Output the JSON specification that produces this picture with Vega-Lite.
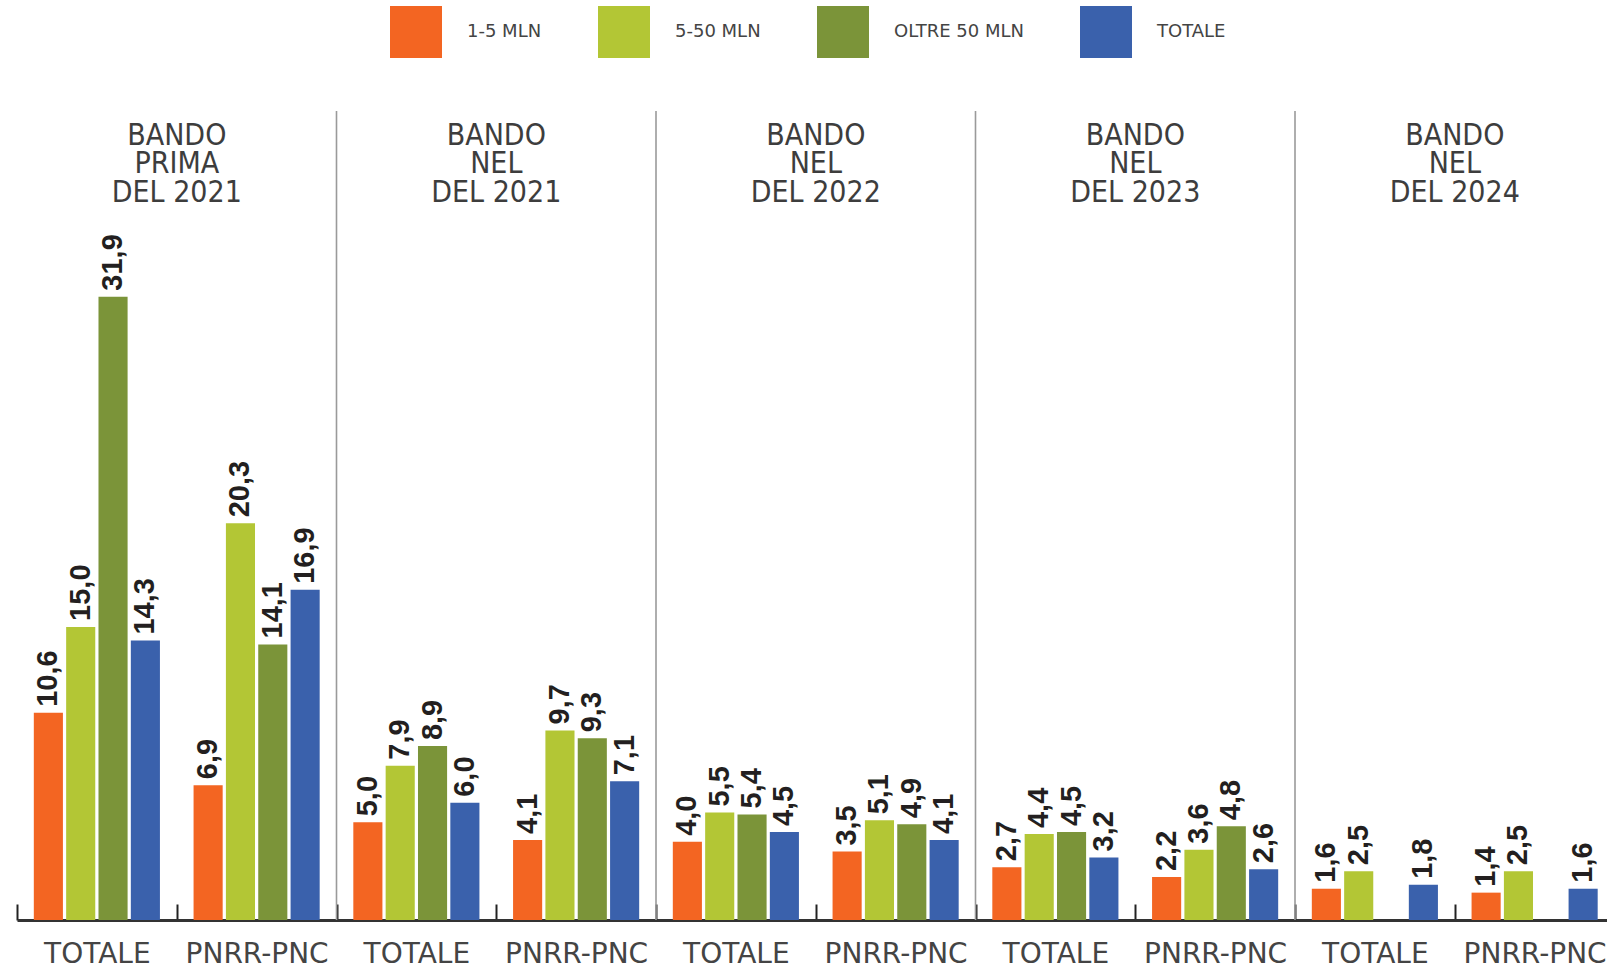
{
  "$schema": "https://vega.github.io/schema/vega-lite/v6.json",
  "autosize": "none",
  "width": 1590,
  "height": 809,
  "padding": {"left": 17, "top": 111, "right": 0, "bottom": 49},
  "background": "white",
  "config": {
    "view": {"stroke": null},
    "locale": {"number": {"decimal": ",", "thousands": ".", "grouping": [3], "currency": ["€", ""]}}
  },
  "data": {
    "values": [
      {"colonna": "BANDO|PRIMA|DEL 2021~TOTALE", "bando": "BANDO|PRIMA|DEL 2021", "tipo": "TOTALE", "classe": "1-5 MLN", "valore": 10.6},
      {"colonna": "BANDO|PRIMA|DEL 2021~TOTALE", "bando": "BANDO|PRIMA|DEL 2021", "tipo": "TOTALE", "classe": "5-50 MLN", "valore": 15.0},
      {"colonna": "BANDO|PRIMA|DEL 2021~TOTALE", "bando": "BANDO|PRIMA|DEL 2021", "tipo": "TOTALE", "classe": "OLTRE 50 MLN", "valore": 31.9},
      {"colonna": "BANDO|PRIMA|DEL 2021~TOTALE", "bando": "BANDO|PRIMA|DEL 2021", "tipo": "TOTALE", "classe": "TOTALE", "valore": 14.3},
      {"colonna": "BANDO|PRIMA|DEL 2021~PNRR-PNC", "bando": "BANDO|PRIMA|DEL 2021", "tipo": "PNRR-PNC", "classe": "1-5 MLN", "valore": 6.9},
      {"colonna": "BANDO|PRIMA|DEL 2021~PNRR-PNC", "bando": "BANDO|PRIMA|DEL 2021", "tipo": "PNRR-PNC", "classe": "5-50 MLN", "valore": 20.3},
      {"colonna": "BANDO|PRIMA|DEL 2021~PNRR-PNC", "bando": "BANDO|PRIMA|DEL 2021", "tipo": "PNRR-PNC", "classe": "OLTRE 50 MLN", "valore": 14.1},
      {"colonna": "BANDO|PRIMA|DEL 2021~PNRR-PNC", "bando": "BANDO|PRIMA|DEL 2021", "tipo": "PNRR-PNC", "classe": "TOTALE", "valore": 16.9},
      {"colonna": "BANDO|NEL|DEL 2021~TOTALE", "bando": "BANDO|NEL|DEL 2021", "tipo": "TOTALE", "classe": "1-5 MLN", "valore": 5.0},
      {"colonna": "BANDO|NEL|DEL 2021~TOTALE", "bando": "BANDO|NEL|DEL 2021", "tipo": "TOTALE", "classe": "5-50 MLN", "valore": 7.9},
      {"colonna": "BANDO|NEL|DEL 2021~TOTALE", "bando": "BANDO|NEL|DEL 2021", "tipo": "TOTALE", "classe": "OLTRE 50 MLN", "valore": 8.9},
      {"colonna": "BANDO|NEL|DEL 2021~TOTALE", "bando": "BANDO|NEL|DEL 2021", "tipo": "TOTALE", "classe": "TOTALE", "valore": 6.0},
      {"colonna": "BANDO|NEL|DEL 2021~PNRR-PNC", "bando": "BANDO|NEL|DEL 2021", "tipo": "PNRR-PNC", "classe": "1-5 MLN", "valore": 4.1},
      {"colonna": "BANDO|NEL|DEL 2021~PNRR-PNC", "bando": "BANDO|NEL|DEL 2021", "tipo": "PNRR-PNC", "classe": "5-50 MLN", "valore": 9.7},
      {"colonna": "BANDO|NEL|DEL 2021~PNRR-PNC", "bando": "BANDO|NEL|DEL 2021", "tipo": "PNRR-PNC", "classe": "OLTRE 50 MLN", "valore": 9.3},
      {"colonna": "BANDO|NEL|DEL 2021~PNRR-PNC", "bando": "BANDO|NEL|DEL 2021", "tipo": "PNRR-PNC", "classe": "TOTALE", "valore": 7.1},
      {"colonna": "BANDO|NEL|DEL 2022~TOTALE", "bando": "BANDO|NEL|DEL 2022", "tipo": "TOTALE", "classe": "1-5 MLN", "valore": 4.0},
      {"colonna": "BANDO|NEL|DEL 2022~TOTALE", "bando": "BANDO|NEL|DEL 2022", "tipo": "TOTALE", "classe": "5-50 MLN", "valore": 5.5},
      {"colonna": "BANDO|NEL|DEL 2022~TOTALE", "bando": "BANDO|NEL|DEL 2022", "tipo": "TOTALE", "classe": "OLTRE 50 MLN", "valore": 5.4},
      {"colonna": "BANDO|NEL|DEL 2022~TOTALE", "bando": "BANDO|NEL|DEL 2022", "tipo": "TOTALE", "classe": "TOTALE", "valore": 4.5},
      {"colonna": "BANDO|NEL|DEL 2022~PNRR-PNC", "bando": "BANDO|NEL|DEL 2022", "tipo": "PNRR-PNC", "classe": "1-5 MLN", "valore": 3.5},
      {"colonna": "BANDO|NEL|DEL 2022~PNRR-PNC", "bando": "BANDO|NEL|DEL 2022", "tipo": "PNRR-PNC", "classe": "5-50 MLN", "valore": 5.1},
      {"colonna": "BANDO|NEL|DEL 2022~PNRR-PNC", "bando": "BANDO|NEL|DEL 2022", "tipo": "PNRR-PNC", "classe": "OLTRE 50 MLN", "valore": 4.9},
      {"colonna": "BANDO|NEL|DEL 2022~PNRR-PNC", "bando": "BANDO|NEL|DEL 2022", "tipo": "PNRR-PNC", "classe": "TOTALE", "valore": 4.1},
      {"colonna": "BANDO|NEL|DEL 2023~TOTALE", "bando": "BANDO|NEL|DEL 2023", "tipo": "TOTALE", "classe": "1-5 MLN", "valore": 2.7},
      {"colonna": "BANDO|NEL|DEL 2023~TOTALE", "bando": "BANDO|NEL|DEL 2023", "tipo": "TOTALE", "classe": "5-50 MLN", "valore": 4.4},
      {"colonna": "BANDO|NEL|DEL 2023~TOTALE", "bando": "BANDO|NEL|DEL 2023", "tipo": "TOTALE", "classe": "OLTRE 50 MLN", "valore": 4.5},
      {"colonna": "BANDO|NEL|DEL 2023~TOTALE", "bando": "BANDO|NEL|DEL 2023", "tipo": "TOTALE", "classe": "TOTALE", "valore": 3.2},
      {"colonna": "BANDO|NEL|DEL 2023~PNRR-PNC", "bando": "BANDO|NEL|DEL 2023", "tipo": "PNRR-PNC", "classe": "1-5 MLN", "valore": 2.2},
      {"colonna": "BANDO|NEL|DEL 2023~PNRR-PNC", "bando": "BANDO|NEL|DEL 2023", "tipo": "PNRR-PNC", "classe": "5-50 MLN", "valore": 3.6},
      {"colonna": "BANDO|NEL|DEL 2023~PNRR-PNC", "bando": "BANDO|NEL|DEL 2023", "tipo": "PNRR-PNC", "classe": "OLTRE 50 MLN", "valore": 4.8},
      {"colonna": "BANDO|NEL|DEL 2023~PNRR-PNC", "bando": "BANDO|NEL|DEL 2023", "tipo": "PNRR-PNC", "classe": "TOTALE", "valore": 2.6},
      {"colonna": "BANDO|NEL|DEL 2024~TOTALE", "bando": "BANDO|NEL|DEL 2024", "tipo": "TOTALE", "classe": "1-5 MLN", "valore": 1.6},
      {"colonna": "BANDO|NEL|DEL 2024~TOTALE", "bando": "BANDO|NEL|DEL 2024", "tipo": "TOTALE", "classe": "5-50 MLN", "valore": 2.5},
      {"colonna": "BANDO|NEL|DEL 2024~TOTALE", "bando": "BANDO|NEL|DEL 2024", "tipo": "TOTALE", "classe": "TOTALE", "valore": 1.8},
      {"colonna": "BANDO|NEL|DEL 2024~PNRR-PNC", "bando": "BANDO|NEL|DEL 2024", "tipo": "PNRR-PNC", "classe": "1-5 MLN", "valore": 1.4},
      {"colonna": "BANDO|NEL|DEL 2024~PNRR-PNC", "bando": "BANDO|NEL|DEL 2024", "tipo": "PNRR-PNC", "classe": "5-50 MLN", "valore": 2.5},
      {"colonna": "BANDO|NEL|DEL 2024~PNRR-PNC", "bando": "BANDO|NEL|DEL 2024", "tipo": "PNRR-PNC", "classe": "TOTALE", "valore": 1.6}
    ]
  },
  "resolve": {"axis": {"x": "independent"}},
  "layer": [
    {
      "transform": [{"filter": "datum.tipo == 'TOTALE' && datum.classe == '1-5 MLN' && datum.bando != 'BANDO|PRIMA|DEL 2021'"}],
      "mark": {"type": "rule", "color": "#9a9a9a", "strokeWidth": 1.6},
      "encoding": {
        "x": {
          "field": "colonna", "type": "nominal", "bandPosition": 0,
          "scale": {
            "domain": ["BANDO|PRIMA|DEL 2021~TOTALE", "BANDO|PRIMA|DEL 2021~PNRR-PNC", "BANDO|NEL|DEL 2021~TOTALE", "BANDO|NEL|DEL 2021~PNRR-PNC", "BANDO|NEL|DEL 2022~TOTALE", "BANDO|NEL|DEL 2022~PNRR-PNC", "BANDO|NEL|DEL 2023~TOTALE", "BANDO|NEL|DEL 2023~PNRR-PNC", "BANDO|NEL|DEL 2024~TOTALE", "BANDO|NEL|DEL 2024~PNRR-PNC"],
            "range": [0, 1597.5],
            "paddingInner": 0, "paddingOuter": 0
          },
          "axis": {
            "orient": "top", "offset": -39, "domain": false, "ticks": false, "grid": false,
            "labelPadding": 0, "labelOffset": 79.9, "labelAngle": 0, "labelAlign": "center", "labelBaseline": "bottom",
            "labelFont": "DejaVu Sans Condensed", "labelFontSize": 30, "labelColor": "#3d3d3d", "labelLineHeight": 28.5, "labelLimit": 0,
            "labelExpr": "split(datum.value, '~')[1] == 'TOTALE' ? split(split(datum.value, '~')[0], '|') : ''",
            "title": null
          }
        }
      }
    },
    {
      "mark": {"type": "bar"},
      "encoding": {
        "x": {
          "field": "colonna", "type": "nominal",
          "axis": {
            "orient": "bottom", "domain": true, "domainColor": "#333333", "domainWidth": 3,
            "ticks": true, "tickBand": "extent", "tickSize": -16, "tickColor": "#222222", "tickWidth": 2,
            "grid": false, "labelAngle": 0, "labelAlign": "center", "labelBaseline": "top", "labelPadding": 36,
            "labelFont": "DejaVu Sans", "labelFontSize": 28, "labelColor": "#444444", "labelLimit": 0,
            "labelExpr": "split(datum.value, '~')[1]",
            "title": null
          }
        },
        "xOffset": {
          "field": "classe", "type": "nominal",
          "scale": {"domain": ["1-5 MLN", "5-50 MLN", "OLTRE 50 MLN", "TOTALE"], "paddingInner": 0.1, "paddingOuter": 0.52}
        },
        "y": {
          "field": "valore", "type": "quantitative",
          "scale": {"domain": [0, 41.4], "nice": false, "zero": true},
          "axis": null
        },
        "color": {
          "field": "classe", "type": "nominal",
          "scale": {"domain": ["1-5 MLN", "5-50 MLN", "OLTRE 50 MLN", "TOTALE"], "range": ["#F36522", "#B3C635", "#7B9439", "#3A61AC"]},
          "legend": {
            "orient": "none", "legendX": 373, "legendY": -105, "direction": "horizontal", "title": null,
            "symbolType": "square", "symbolSize": 2704, "symbolStrokeWidth": 0, "symbolOpacity": 1,
            "labelFont": "DejaVu Sans", "labelFontSize": 18, "labelColor": "#444444", "labelOffset": 25,
            "columnPadding": 56, "padding": 0, "labelLimit": 0
          }
        }
      }
    },
    {
      "mark": {"type": "text", "angle": 270, "align": "left", "baseline": "middle", "dx": 6, "font": "Liberation Sans", "fontWeight": "bold", "fontSize": 29, "color": "#231f20"},
      "encoding": {
        "x": {"field": "colonna", "type": "nominal", "axis": null},
        "xOffset": {"field": "classe", "type": "nominal"},
        "y": {"field": "valore", "type": "quantitative"},
        "text": {"field": "valore", "type": "quantitative", "format": ".1f"}
      }
    }
  ]
}
